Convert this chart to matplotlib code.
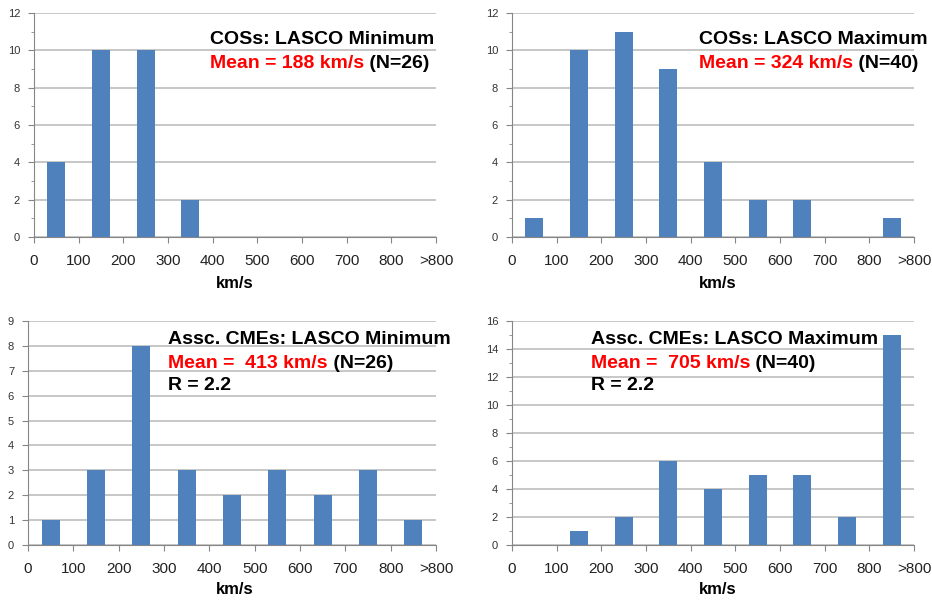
import numpy as np
import matplotlib.pyplot as plt
from matplotlib.ticker import MultipleLocator

plt.rcParams['font.family'] = ['Liberation Sans', 'DejaVu Sans']

tick_labels = ['0', '100', '200', '300', '400', '500', '600', '700', '800', '>800']

cos_min = [4, 10, 10, 2, 0, 0, 0, 0, 0]
cos_max = [1, 10, 11, 9, 4, 2, 2, 0, 1]
cme_min = [1, 3, 8, 3, 2, 3, 2, 3, 1]
cme_max = [0, 1, 2, 6, 4, 5, 5, 2, 15]

titles = ['COSs: LASCO Minimum', 'COSs: LASCO Maximum',
          'Assc. CMEs: LASCO Minimum', 'Assc. CMEs: LASCO Maximum']
means = ['Mean = 188 km/s', 'Mean = 324 km/s', 'Mean =  413 km/s', 'Mean =  705 km/s']
counts = [' (N=26)', ' (N=40)', ' (N=26)', ' (N=40)']
ratios = [None, None, 'R = 2.2', 'R = 2.2']
ymax = [12, 12, 9, 16]
ystep = [2, 2, 1, 2]

W, H = 932, 600
fig = plt.figure(figsize=(W / 100, H / 100), dpi=100)

# axes boxes in pixels: left, top, right, bottom
boxes = [(34, 13, 436, 237), (512, 13, 914, 237),
         (28, 321, 436, 545), (512, 321, 914, 545)]
text_pos = [(210, 40), (699, 40), (168, 340), (591, 340)]
xlabel_pos = [(235, 283), (718, 283), (235, 590), (718, 590)]

bar_color = '#4F81BD'
grid_color = '#BEBEBE'
axis_color = '#868686'

for i, vals in enumerate([cos_min, cos_max, cme_min, cme_max]):
    l, t, r, b = boxes[i]
    ax = fig.add_axes([l / W, 1 - b / H, (r - l) / W, (b - t) / H])
    x = np.arange(len(vals)) + 0.5
    ax.bar(x, vals, width=0.4, color=bar_color, zorder=3)
    ax.set_xlim(0, 9)
    ax.set_ylim(0, ymax[i])
    ax.set_xticks(np.arange(10))
    ax.set_xticklabels(tick_labels, fontsize=11, color='#222222')
    ax.yaxis.set_major_locator(MultipleLocator(ystep[i]))
    if ystep[i] == 2:
        ax.yaxis.set_minor_locator(MultipleLocator(1))
    ax.tick_params(axis='y', labelsize=8, colors=axis_color, labelcolor='#333333',
                   length=4, pad=6)
    ax.tick_params(axis='y', which='minor', length=2, colors=axis_color)
    ax.tick_params(axis='x', length=4, colors=axis_color, labelcolor='#222222', pad=8)
    ax.grid(axis='y', color=grid_color, linewidth=1.2, zorder=0)
    for s in ['top', 'right']:
        ax.spines[s].set_visible(False)
    for s in ['left', 'bottom']:
        ax.spines[s].set_color(axis_color)
    ax.set_axisbelow(True)

    tx, ty = text_pos[i]
    fig.text(tx / W, 1 - ty / H, titles[i], fontsize=14, fontweight='bold',
             va='center', ha='left')
    t1 = fig.text(tx / W, 1 - (ty + 23) / H, means[i], fontsize=14,
                  fontweight='bold', color='red', va='center', ha='left')
    ax.annotate(counts[i], xy=(1, 0.5), xycoords=t1, va='center', ha='left',
                fontsize=14, fontweight='bold', color='black')
    if ratios[i]:
        fig.text(tx / W, 1 - (ty + 46) / H, ratios[i], fontsize=14,
                 fontweight='bold', va='center', ha='left')
    lx, ly = xlabel_pos[i]
    fig.text(lx / W, 1 - ly / H, 'km/s', fontsize=12, fontweight='bold',
             ha='center', va='center')

fig.savefig('out.png', dpi=100)
